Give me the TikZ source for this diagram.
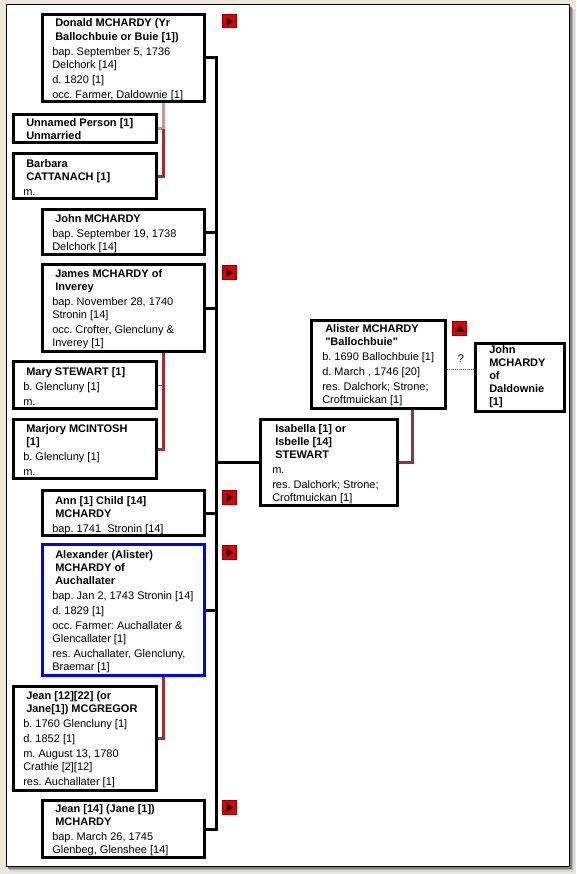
\documentclass[tikz,border=0pt]{standalone}
\usepackage{fontspec}
\setmainfont{Liberation Sans}
\newfontfamily\lsans{Liberation Sans}
\frenchspacing
\definecolor{bgbeige}{RGB}{236,233,216}
\definecolor{spred}{RGB}{153,51,51}
\definecolor{sppink}{RGB}{204,153,153}
\definecolor{selblue}{RGB}{0,0,255}
\definecolor{btnred}{RGB}{220,0,0}
\definecolor{btnedge}{RGB}{140,0,0}
\definecolor{dotgreen}{RGB}{0,150,0}
\newcommand\pnm[1]{\hspace*{2.25pt}\textbf{#1}}
\newcommand\btxt[1]{\begin{tabular}[t]{@{}l@{}}#1\end{tabular}}
\tikzset{
  pbox/.style={rectangle, draw=black, line width=2.25pt, fill=white, inner sep=0pt, anchor=north west},
  selbox/.style={pbox, draw=selblue},
  wh/.style 2 args={minimum width={(#1-3)*0.75pt}, minimum height={(#2-3)*0.75pt}},
  txt/.style={anchor=base west, inner sep=0pt, font=\lsans\fontsize{8.25}{9.75}\selectfont\frenchspacing},
  busln/.style={line width=2.25pt, black},
  spln/.style={line width=2.25pt, spred},
  pinkln/.style={line width=2.25pt, sppink},
  spthin/.style={line width=0.75pt, spred},
  greendot/.style={line width=0.75pt, dotgreen, dash pattern=on 0.75pt off 0.75pt},
  btn/.style={rectangle, draw=btnedge, fill=btnred, line width=0.75pt, minimum size=13.5*0.75pt, inner sep=0pt, anchor=north west}
}
\newcommand\rbtn[3]{%
  \node[btn] (#1) at (#2,#3) {};
  \fill[black] ([shift={(4.5,3)}]#1.north west) -- ([shift={(4.5,12)}]#1.north west) -- ([shift={(10.5,7.5)}]#1.north west) -- cycle;}
\newcommand\gp{\\[1.6pt]}
\begin{document}
\begin{tikzpicture}[x=0.75pt, y=-0.75pt]
\useasboundingbox (0,0) rectangle (576,874);
% frame
\fill[bgbeige] (0,0) rectangle (576,874);
\fill[black!15] (10,9) rectangle (574.5,871.5);
\fill[black!30] (9,8) rectangle (573,870);
\fill[black!50] (8,7) rectangle (571.5,868.5);
\filldraw[fill=white, draw=black, line width=0.75pt] (6,5) rectangle (569.5,866.5);

% boxes
\node[pbox, wh={165}{90}] (donald) at (41,13) {};
\node[pbox, wh={146}{31}] (unnamed) at (12,113) {};
\node[pbox, wh={146}{48}] (barbara) at (12,152) {};
\node[pbox, wh={165}{48}] (john) at (41,208) {};
\node[pbox, wh={165}{90}] (james) at (41,263) {};
\node[pbox, wh={146}{50}] (mary) at (12,360) {};
\node[pbox, wh={146}{62}] (marjory) at (12,418) {};
\node[pbox, wh={165}{48}] (ann) at (41,489) {};
\node[selbox, wh={165}{134}] (alex) at (41,543) {};
\node[pbox, wh={146}{107}] (jeanmg) at (12,685) {};
\node[pbox, wh={165}{60}] (jeanmh) at (41,799) {};
\node[pbox, wh={137}{91}] (alister) at (310,319) {};
\node[pbox, wh={140}{89}] (isabella) at (259,418) {};
\node[pbox, wh={92}{71}] (johnd) at (474,342) {};

% texts
\node[txt] (t1) at (52,27) {\btxt{\pnm{Donald MCHARDY (Yr}\\\pnm{Ballochbuie or Buie [1])}\gp bap. September 5, 1736\\Delchork [14]\gp d. 1820 [1]\gp occ. Farmer, Daldownie [1]}};
\node[txt] (t2) at (23,126) {\btxt{\pnm{Unnamed Person [1]}\\\pnm{Unmarried}}};
\node[txt] (t3) at (23,167) {\btxt{\pnm{Barbara}\\\pnm{CATTANACH [1]}\gp m.}};
\node[txt] (t4) at (52,222) {\btxt{\pnm{John MCHARDY}\gp bap. September 19, 1738\\Delchork [14]}};
\node[txt] (t5) at (52,277) {\btxt{\pnm{James MCHARDY of}\\\pnm{Inverey}\gp bap. November 28, 1740\\Stronin [14]\gp occ. Crofter, Glencluny \&\\Inverey [1]}};
\node[txt] (t6) at (23,375) {\btxt{\pnm{Mary STEWART [1]}\gp b. Glencluny [1]\gp m.}};
\node[txt] (t7) at (23,432) {\btxt{\pnm{Marjory MCINTOSH}\\\pnm{[1]}\gp b. Glencluny [1]\gp m.}};
\node[txt] (t8) at (52,504) {\btxt{\pnm{Ann [1] Child [14]}\\\pnm{MCHARDY}\gp bap. 1741~ Stronin [14]}};
\node[txt] (t9) at (52,558) {\btxt{\pnm{Alexander (Alister)}\\\pnm{MCHARDY of}\\\pnm{Auchallater}\gp bap. Jan 2, 1743 Stronin [14]\gp d. 1829 [1]\gp occ. Farmer: Auchallater \&\\Glencallater [1]\gp res. Auchallater, Glencluny,\\Braemar [1]}};
\node[txt] (t10) at (23,699) {\btxt{\pnm{Jean [12][22] (or}\\\pnm{Jane[1]) MCGREGOR}\gp b. 1760 Glencluny [1]\gp d. 1852 [1]\gp m. August 13, 1780\\Crathie [2][12]\gp res. Auchallater [1]}};
\node[txt] (t11) at (52,812) {\btxt{\pnm{Jean [14] (Jane [1])}\\\pnm{MCHARDY}\gp bap. March 26, 1745\\Glenbeg, Glenshee [14]}};
\node[txt] (t12) at (322,332) {\btxt{\pnm{Alister MCHARDY}\\\pnm{"Ballochbuie"}\gp b. 1690 Ballochbuie [1]\gp d. March , 1746 [20]\gp res. Dalchork; Strone;\\Croftmuickan [1]}};
\node[txt] (t13) at (272,432) {\btxt{\pnm{Isabella [1] or}\\\pnm{Isbelle [14]}\\\pnm{STEWART}\gp m.\gp res. Dalchork; Strone;\\Croftmuickan [1]}};
\node[txt] (t14) at (486,353) {\btxt{\pnm{John}\\\pnm{MCHARDY}\\\pnm{of}\\\pnm{Daldownie}\\\pnm{[1]}}};

% connectors
\coordinate (busx) at (216,0);
\coordinate (spx) at (163.5,0);
\coordinate (alx) at (412,0);
\coordinate (q) at (460,369);
\draw[busln] (donald.east) -| (busx |- jeanmh.east) -- (jeanmh.east);
\draw[busln] (john.east) -- (busx |- john.east);
\draw[busln] (james.east) -- (busx |- james.east);
\draw[busln] (ann.east) -- (busx |- ann.east);
\draw[busln] (alex.east) -- (busx |- alex.east);
\draw[busln] (busx |- isabella.west) -- (isabella.west);
\draw[pinkln] (donald.south -| spx) |- (unnamed.east);
\draw[spln] (spx |- unnamed.east) |- (barbara.east);
\draw[spln] (james.south -| spx) |- (marjory.east);
\draw[spthin] (spx |- mary.east) -- (mary.east);
\draw[spln] (alex.south -| spx) |- (jeanmg.east);
\draw[spln] (alister.south -| alx) |- (isabella.east);
\draw[greendot] (alister.east |- q) -- (johnd.west |- q);
\node[txt, anchor=base] (qm) at (461,362) {?};

% buttons
\rbtn{b1}{222}{14}
\rbtn{b2}{222}{265}
\rbtn{b3}{222}{490}
\rbtn{b4}{222}{545}
\rbtn{b5}{222}{800}
\node[btn] (b6) at (452,321) {};
\fill[black] ([shift={(3,10.5)}]b6.north west) -- ([shift={(12,10.5)}]b6.north west) -- ([shift={(7.5,4.5)}]b6.north west) -- cycle;
\end{tikzpicture}
\end{document}
